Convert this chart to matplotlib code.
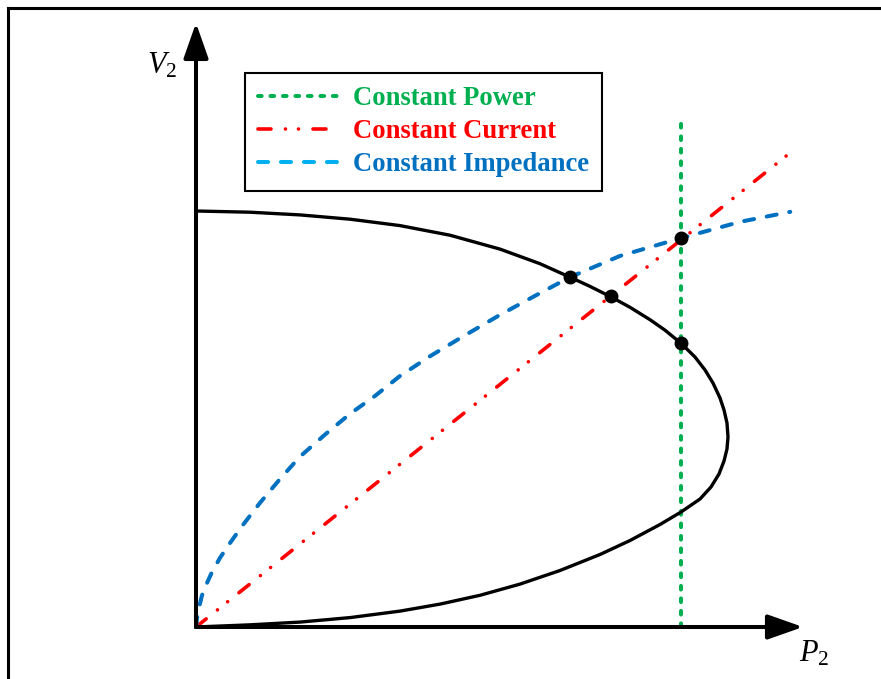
import numpy as np
import matplotlib.pyplot as plt
from matplotlib.lines import Line2D

plt.rcParams['mathtext.fontset'] = 'custom'
plt.rcParams['mathtext.rm'] = 'Liberation Serif'
plt.rcParams['mathtext.it'] = 'Liberation Serif:italic'

# P-V nose curve (per unit), upper branch then lower branch
pv_p = [0.0, 0.1015, 0.1955, 0.2895, 0.3835, 0.4774, 0.5714, 0.6466, 0.7030, 0.7406,
        0.7801, 0.8158, 0.8534, 0.8816, 0.9117, 0.9380, 0.9568, 0.9718, 0.9850, 0.9925,
        0.9981, 1.0,
        0.9981, 0.9925, 0.9831, 0.9680, 0.9474, 0.9117, 0.8722, 0.8158, 0.7594, 0.6842,
        0.6090, 0.5338, 0.4586, 0.3835, 0.2895, 0.1955, 0.1015, 0.0]
pv_v = [1.0, 0.9971, 0.9906, 0.9803, 0.9649, 0.9418, 0.9084, 0.8733, 0.8409, 0.8188,
        0.7935, 0.7685, 0.7387, 0.7135, 0.6820, 0.6490, 0.6178, 0.5865, 0.5505, 0.5216,
        0.4904, 0.4567,
        0.4279, 0.3990, 0.3678, 0.3365, 0.3077, 0.2764, 0.2464, 0.2079, 0.1743, 0.1358,
        0.1031, 0.0762, 0.0550, 0.0382, 0.0226, 0.0118, 0.0052, 0.0]

# constant power load
cp_p = [0.912, 0.912]
cp_v = [0.0, 1.214]

# constant current load
cc_p = [0.0, 1.117]
cc_v = [0.0, 1.140]

# constant impedance load
cz_p = [0.0, 0.002, 0.006, 0.011, 0.019, 0.030, 0.045, 0.064, 0.088, 0.120, 0.158,
        0.195, 0.242, 0.289, 0.336, 0.383, 0.440, 0.500, 0.571, 0.640, 0.703, 0.797,
        0.912, 1.023, 1.117]
cz_v = [0.0, 0.022, 0.048, 0.075, 0.101, 0.132, 0.166, 0.202, 0.245, 0.298, 0.356,
        0.409, 0.462, 0.512, 0.555, 0.603, 0.651, 0.697, 0.750, 0.798, 0.841, 0.892,
        0.935, 0.974, 0.998]

# operating points
op_p = [0.703, 0.780, 0.912, 0.912]
op_v = [0.841, 0.795, 0.935, 0.682]

labels = ['Constant Power', 'Constant Current', 'Constant Impedance']
green, red, blue, light_blue = '#00B050', '#FF0000', '#0070C0', '#00B0F0'

power_ls = (0, (0.9, 2.2))
current_ls = (0, (3.6, 4.0, 0.01, 3.6, 0.01, 4.0))
imped_ls = (0, (2.5, 3.2))

fig = plt.figure(figsize=(8.81, 6.79), dpi=100)
ax = fig.add_axes([0, 0, 1, 1])
ax.set_xlim(-196 / 532, 685 / 532)
ax.set_ylim(-52 / 416, 627 / 416)
ax.axis('off')

# outer frame (left and top edges only)
fig.add_artist(Line2D([8 / 881, 8 / 881], [0, 1 - 8 / 679], color='k', lw=2.2))
fig.add_artist(Line2D([8 / 881, 1], [1 - 8 / 679, 1 - 8 / 679], color='k', lw=2.2))

# axes with arrow heads
arrow = dict(arrowstyle='-|>,head_length=1.08,head_width=0.38', mutation_scale=20,
             lw=2.9, color='k', shrinkA=0, shrinkB=0)
ax.annotate('', xy=(0, 1.452), xytext=(0, 0), arrowprops=arrow)
ax.annotate('', xy=(1.141, 0), xytext=(0, 0), arrowprops=arrow)

ax.plot(pv_p, pv_v, color='k', lw=2.4, solid_joinstyle='round', zorder=3)
ax.plot(cp_p, cp_v, color=green, lw=2.9, ls=power_ls, dash_capstyle='round', zorder=2)
ax.plot(cc_p, cc_v, color=red, lw=2.6, ls=current_ls, dash_capstyle='round', zorder=2)
ax.plot(cz_p, cz_v, color=blue, lw=2.9, ls=imped_ls, dash_capstyle='round', zorder=2)
ax.plot(op_p, op_v, 'o', color='k', ms=9, zorder=4)

handles = [
    Line2D([], [], color=green, lw=2.9, ls=power_ls, dash_capstyle='round'),
    Line2D([], [], color=red, lw=2.6, ls=current_ls, dash_capstyle='round'),
    Line2D([], [], color=light_blue, lw=2.9, ls=imped_ls, dash_capstyle='round'),
]
leg = ax.legend(handles, labels, loc='upper left',
                bbox_to_anchor=(245 / 881, 1 - 73 / 679), bbox_transform=fig.transFigure,
                borderaxespad=0, prop={'family': 'Liberation Serif', 'weight': 'bold', 'size': 19.2},
                labelcolor=[green, red, blue], handlelength=3.0, handletextpad=0.55,
                borderpad=0.5, labelspacing=0.3, fancybox=False, framealpha=1)
leg.get_frame().set_edgecolor('k')
leg.get_frame().set_linewidth(1.5)

fig.text(147 / 881, 1 - 74 / 679, r'$V_2$', fontsize=22, ha='left', va='baseline')
fig.text(799 / 881, 1 - 662 / 679, r'$P_2$', fontsize=22, ha='left', va='baseline')

fig.savefig('out.png', dpi=100)
